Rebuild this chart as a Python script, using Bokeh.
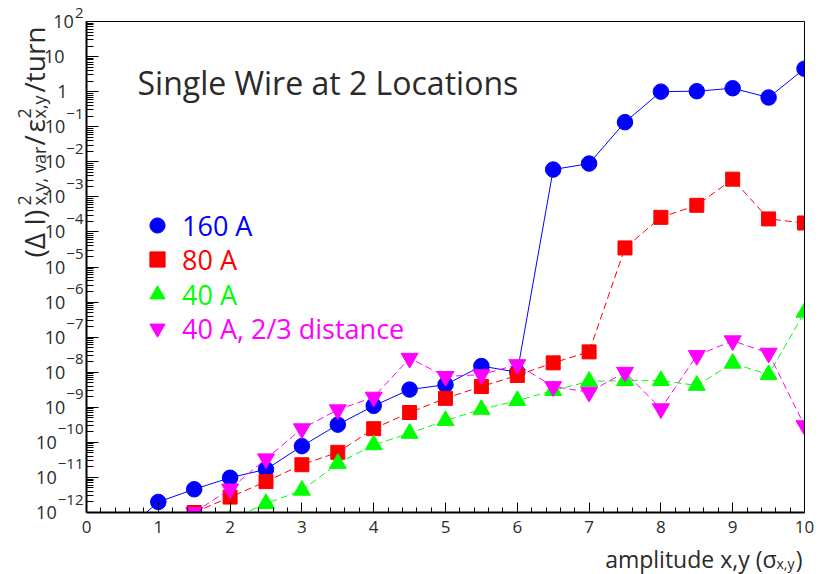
import math
from bokeh.plotting import figure
from bokeh.models import (Label, Legend, LegendItem, FixedTicker, SingleIntervalTicker,
                          CustomJSTickFormatter, LinearAxis, LogAxis, Range1d, BoxAnnotation)
from bokeh.embed import file_html
from bokeh.resources import INLINE

# ---------------- data ----------------
x_160 = [0.5, 1.0, 1.5, 2.0, 2.5, 3.0, 3.5, 4.0, 4.5, 5.0, 5.5, 6.0, 6.5, 7.0, 7.5, 8.0, 8.5, 9.0, 9.5, 10.0]
y_160 = [2.5e-13, 2.0e-12, 4.6e-12, 9.8e-12, 1.7e-11, 7.8e-11, 3.2e-10, 1.1e-9, 3.2e-9, 4.4e-9,
         1.5e-8, 1.0e-8, 6.0e-3, 8.9e-3, 0.135, 1.0, 1.03, 1.25, 0.68, 4.5]

x_80 = [1.5, 2.0, 2.5, 3.0, 3.5, 4.0, 4.5, 5.0, 5.5, 6.0, 6.5, 7.0, 7.5, 8.0, 8.5, 9.0, 9.5, 10.0]
y_80 = [1.0e-12, 2.75e-12, 7.6e-12, 2.3e-11, 5.2e-11, 2.45e-10, 7.1e-10, 1.8e-9, 3.9e-9, 8.1e-9,
        1.85e-8, 3.8e-8, 3.5e-5, 2.6e-4, 5.75e-4, 3.2e-3, 2.35e-4, 1.8e-4]

x_40 = [2.0, 2.5, 3.0, 3.5, 4.0, 4.5, 5.0, 5.5, 6.0, 6.5, 7.0, 7.5, 8.0, 8.5, 9.0, 9.5, 10.0]
y_40 = [6.3e-13, 1.8e-12, 4.3e-12, 2.5e-11, 8.5e-11, 1.8e-10, 4.2e-10, 8.7e-10, 1.55e-9, 3.0e-9,
        5.5e-9, 5.75e-9, 5.75e-9, 4.2e-9, 1.8e-8, 8.5e-9, 5.1e-7]

x_40d = [1.5, 2.0, 2.5, 3.0, 3.5, 4.0, 4.5, 5.0, 5.5, 6.0, 6.5, 7.0, 7.5, 8.0, 8.5, 9.0, 9.5, 10.0]
y_40d = [1.0e-12, 4.7e-12, 3.4e-11, 2.45e-10, 8.5e-10, 1.95e-9, 2.5e-8, 7.6e-9, 8.5e-9, 1.65e-8,
         3.9e-9, 2.7e-9, 1.0e-8, 9.1e-10, 3.0e-8, 7.9e-8, 3.5e-8, 3.0e-10]

series_labels = ["160 A", "80 A", "40 A", "40 A, 2/3 distance"]
series_colors = ["#0000ff", "#ff0000", "#00ff00", "#ff00ff"]
title_text = "Single Wire at 2 Locations"
x_lim = (0, 10)
y_lim = (1e-12, 1e2)
x_tick_step = 1
y_tick_exponents = list(range(-12, 3))          # decades shown on the y axis
plain_decades = {0: "1", 1: "10"}                # decades written without exponent

FONT = "Open Sans"
TXT = "#2a2a2a"

# canvas and position of the axes box on it (pixels)
W, H = 819, 574
FL, FR, FT, FB = 86, 804, 21, 512

# ranges extended so that the axes box sits where it is in the reference
px_per_x = (FR - FL) / (x_lim[1] - x_lim[0])
lo, hi = math.log10(y_lim[0]), math.log10(y_lim[1])
px_per_dec = (FB - FT) / (hi - lo)
xr = Range1d(x_lim[0] - FL / px_per_x, x_lim[1] + (W - FR) / px_per_x)
yr = Range1d(10 ** (lo - (H - FB) / px_per_dec), 10 ** (hi + FT / px_per_dec))

p = figure(width=W, height=H, x_range=xr, y_range=yr, y_axis_type="log",
           x_axis_location=None, y_axis_location=None,
           output_backend="svg", toolbar_location=None,
           min_border_left=0, min_border_right=0, min_border_top=0, min_border_bottom=0,
           background_fill_color="white", border_fill_color="white")
p.grid.visible = False
p.outline_line_color = None

def style_axis(ax, width):
    ax.axis_line_width = width
    ax.axis_line_color = "black"
    ax.major_tick_out = 0
    ax.minor_tick_out = 0
    ax.major_tick_line_color = "black"
    ax.minor_tick_line_color = "black"
    ax.major_label_text_font = FONT
    ax.major_label_text_font_size = "17px"
    ax.major_label_text_color = TXT

xaxis = LinearAxis(fixed_location=y_lim[0], bounds=x_lim,
                   ticker=SingleIntervalTicker(interval=x_tick_step, num_minor_ticks=5))
style_axis(xaxis, 2)
xaxis.major_tick_in = 10
xaxis.minor_tick_in = 5
xaxis.major_label_standoff = 8
p.add_layout(xaxis, "below")

major_y = [10.0 ** e for e in y_tick_exponents]
minor_y = [m * 10.0 ** e for e in y_tick_exponents[:-1] for m in range(2, 10)]
yaxis = LogAxis(fixed_location=x_lim[0], bounds=y_lim,
                ticker=FixedTicker(ticks=major_y, minor_ticks=minor_y),
                formatter=CustomJSTickFormatter(code="return ''"))
style_axis(yaxis, 2)
yaxis.major_tick_in = 12
yaxis.minor_tick_in = 7
yaxis.major_label_standoff = 0
p.add_layout(yaxis, "left")

# top and right edges of the box
topaxis = LinearAxis(fixed_location=y_lim[1], bounds=x_lim, ticker=FixedTicker(ticks=[]),
                     formatter=CustomJSTickFormatter(code="return ''"))
style_axis(topaxis, 1)
p.add_layout(topaxis, "above")
rightaxis = LogAxis(fixed_location=x_lim[1], bounds=y_lim, ticker=FixedTicker(ticks=[]),
                    formatter=CustomJSTickFormatter(code="return ''"))
style_axis(rightaxis, 1)
p.add_layout(rightaxis, "right")

# series
p.line(x_160, y_160, line_color=series_colors[0], line_width=1)
s1 = p.scatter(x_160, y_160, marker="circle", size=15.5, fill_color=series_colors[0], line_color=series_colors[0])
p.line(x_80, y_80, line_color=series_colors[1], line_width=1, line_dash="7 4")
s2 = p.scatter(x_80, y_80, marker="square", size=14, fill_color=series_colors[1], line_color=series_colors[1])
p.line(x_40, y_40, line_color=series_colors[2], line_width=1, line_dash="7 4")
s3 = p.scatter(x_40, y_40, marker="triangle", size=17, fill_color=series_colors[2], line_color=series_colors[2])
p.line(x_40d, y_40d, line_color=series_colors[3], line_width=1, line_dash="7 4")
s4 = p.scatter(x_40d, y_40d, marker="inverted_triangle", size=17, fill_color=series_colors[3], line_color=series_colors[3])

# mask everything that falls outside the axes box (the reference clips there)
p.add_layout(BoxAnnotation(top=y_lim[0], fill_color="white", fill_alpha=1, line_alpha=0, level="glyph"))
p.add_layout(BoxAnnotation(left=x_lim[1], fill_color="white", fill_alpha=1, line_alpha=0, level="glyph"))

# legends (one per entry, each with its own text colour)
scatters = [s1, s2, s3, s4]
legend_centers = [225, 259, 294, 328]
for lab, col, r, cy in zip(series_labels, series_colors, scatters, legend_centers):
    lg = Legend(items=[LegendItem(label=lab, renderers=[r])], location=(138, H - cy - 19),
                border_line_color=None, background_fill_alpha=0,
                label_text_font=FONT, label_text_font_size="27px", label_text_color=col,
                glyph_width=38, glyph_height=38, label_standoff=6,
                padding=0, margin=0, spacing=0, label_height=38)
    p.add_layout(lg)

def put(px, py, text, size, color=TXT, angle=0.0, align="left", baseline="alphabetic"):
    p.add_layout(Label(x=px, y=py, x_units="canvas", y_units="canvas", text=text, angle=angle,
                       text_font=FONT, text_font_size=f"{size}px", text_color=color,
                       text_align=align, text_baseline=baseline))

# y tick labels: "10" with a raised exponent, as in the reference
for e in y_tick_exponents:
    ty = FT + (hi - e) * px_per_dec
    if e in plain_decades:
        txt = plain_decades[e]
        put(67 if len(txt) == 1 else 64, ty, txt, 18, align="right", baseline="middle")
    else:
        ex = str(e).replace("-", "\u2212")
        put(83, max(ty - 13, 12), ex, 15, align="right", baseline="middle")
        put(83 - 8.6 * len(ex) - 1, ty, "10", 18, align="right", baseline="middle")

# title text inside the box
put(137, 82, title_text, 32, baseline="middle")

# y axis label, rotated, composed of pieces
A = math.pi / 2
put(33, 257, "(Δ I)", 28, angle=A)
put(24, 205, "2", 18, angle=A)
put(38, 205, "x,y, var", 18, angle=A)
put(33, 145, "/", 28, angle=A)
put(33, 132, "ε", 28, angle=A)
put(38, 118, "x,y", 18, angle=A)
put(24, 118, "2", 18, angle=A)
put(33, 92, "/turn", 28, angle=A)

# x axis label, right aligned
put(802, 558, ")", 23, align="right")
put(794, 563, "x,y", 14, align="right")
put(776, 558, "amplitude x,y (σ", 23, align="right")

open("out.html", "w").write(file_html(p, INLINE))
